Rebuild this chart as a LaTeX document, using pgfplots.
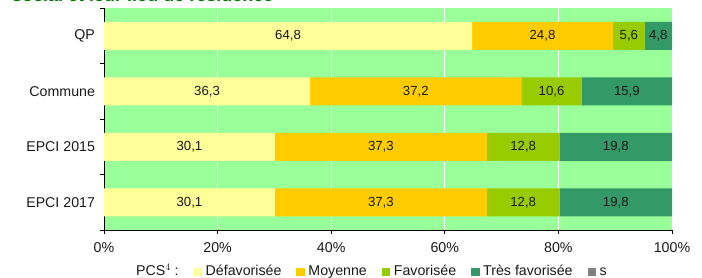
\documentclass[border=0pt]{standalone}
\usepackage{pgfplots}
\pgfplotsset{compat=1.18}
\usepackage{fontspec}
\setmainfont{Liberation Sans}
\definecolor{cdef}{HTML}{FFFF99}
\definecolor{cmoy}{HTML}{FFCC00}
\definecolor{cfav}{HTML}{99CC00}
\definecolor{ctfav}{HTML}{339966}
\definecolor{cs}{HTML}{808080}
\definecolor{bgg}{HTML}{99FF99}
\definecolor{titleg}{HTML}{007A00}
\definecolor{labc}{HTML}{1A1A1A}
\pgfplotsset{
  mybar/.style={fill=#1, draw=none,
    legend image code/.code={\path[fill=#1,draw=none] (0pt,-4.25pt) rectangle (8.5pt,4.25pt);}},
}
\begin{document}
\begin{tikzpicture}
\useasboundingbox (-104pt,-48pt) rectangle (598pt,230pt);
\node[anchor=base west, font=\fontsize{18}{20}\selectfont\bfseries, text=titleg, inner sep=0pt] at (-92pt,228.5pt) {social et leur lieu de résidence};
\begin{axis}[
  at={(0,0)}, anchor=south west,
  scale only axis, width=568pt, height=222pt,
  xbar stacked, bar width=28pt,
  xmin=0, xmax=100, ymin=-0.5, ymax=3.5,
  y dir=reverse,
  axis x line*=bottom, axis y line*=left,
  tick align=outside,
  xtick={0,20,40,60,80,100},
  xticklabel={\pgfmathprintnumber{\tick}\%},
  ytick={0,1,2,3},
  yticklabels={QP,Commune,EPCI 2015,EPCI 2017},
  minor ytick={-0.5,0.5,1.5,2.5,3.5},
  major tick length=4pt, minor tick length=4pt,
  every major y tick/.style={draw=none},
  every minor y tick/.style={black, line width=0.8pt},
  every major x tick/.style={black, line width=0.8pt},
  axis line style={black, line width=0.8pt},
  xmajorgrids, grid style={white, line width=1pt},
  axis background/.style={fill=bgg},
  tick label style={font=\fontsize{14.2}{16}\selectfont, text=labc},
  yticklabel style={xshift=-1.5pt},
  xticklabel style={yshift=-5pt},
  /pgf/number format/assume math mode=true,
  legend style={draw=none, fill=none, at={(0.05,-0.19)}, anchor=west,
    font=\fontsize{14.2}{16}\selectfont, text=labc, inner sep=0pt,
    nodes={text height=10.5pt, text depth=3pt},
    /tikz/every odd column/.append style={column sep=1.5pt},
    /tikz/every even column/.append style={column sep=13pt}},
  legend columns=-1,
]
\addlegendimage{empty legend}
\addlegendentry{PCS$^{4}$ :}
\addplot[mybar=cdef] coordinates {(64.8,0) (36.3,1) (30.1,2) (30.1,3)};
\addlegendentry{Défavorisée}
\addplot[mybar=cmoy] coordinates {(24.8,0) (37.2,1) (37.3,2) (37.3,3)};
\addlegendentry{Moyenne}
\addplot[mybar=cfav] coordinates {(5.6,0) (10.6,1) (12.8,2) (12.8,3)};
\addlegendentry{Favorisée}
\addplot[mybar=ctfav] coordinates {(4.8,0) (15.9,1) (19.8,2) (19.8,3)};
\addlegendentry{Très favorisée}
\addlegendimage{mybar=cs}
\addlegendentry{s}
\end{axis}
\begin{axis}[
  at={(0,0)}, anchor=south west,
  scale only axis, width=568pt, height=222pt,
  xmin=0, xmax=100, ymin=-0.5, ymax=3.5,
  y dir=reverse, hide axis,
  point meta=explicit,
  nodes near coords,
  every node near coord/.append style={anchor=center, font=\fontsize{13.2}{15}\selectfont, text=labc},
  /pgf/number format/.cd, use comma, fixed, fixed zerofill, precision=1, assume math mode=true,
]
\addplot[only marks, mark=*, mark size=0pt, mark options={draw=none, fill=none}] coordinates {
  (32.4,0) [64.8] (77.2,0) [24.8] (92.4,0) [5.6] (97.6,0) [4.8]
  (18.15,1) [36.3] (54.9,1) [37.2] (78.8,1) [10.6] (92.05,1) [15.9]
  (15.05,2) [30.1] (48.75,2) [37.3] (73.8,2) [12.8] (90.1,2) [19.8]
  (15.05,3) [30.1] (48.75,3) [37.3] (73.8,3) [12.8] (90.1,3) [19.8]
};
\end{axis}
\end{tikzpicture}
\end{document}
